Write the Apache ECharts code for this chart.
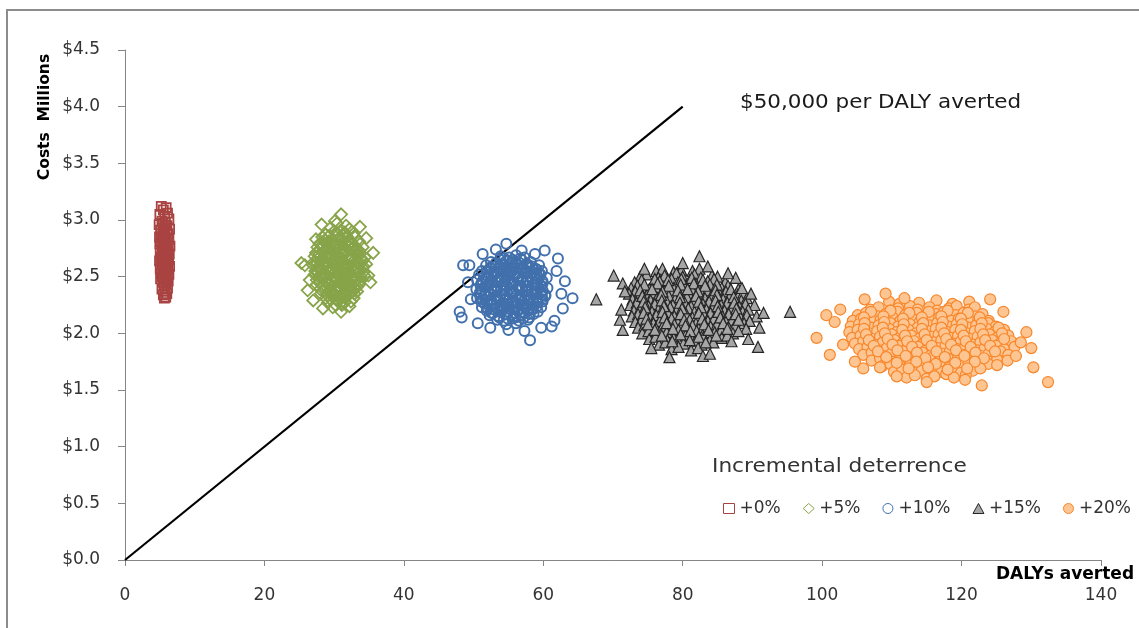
<!DOCTYPE html>
<html>
<head>
<meta charset="utf-8">
<script src="https://cdn.jsdelivr.net/npm/echarts@6/dist/echarts.min.js"></script>
<style>
  html, body { margin: 0; padding: 0; background: #fff; }
  #chart { width: 1139px; height: 628px; }
</style>
</head>
<body>
<div id="chart"></div>
<script>
// Axis ticks
const xTicks = [0, 20, 40, 60, 80, 100, 120, 140];
const yTicks = [0, 0.5, 1.0, 1.5, 2.0, 2.5, 3.0, 3.5, 4.0, 4.5];

// Series names (incremental deterrence)
const seriesNames = ['+0%', '+5%', '+10%', '+15%', '+20%'];

// Willingness-to-pay threshold: $50,000 per DALY averted (costs in $ millions)
const thresholdLine = [[0, 0], [80, 4.0]];

// Simulated outcomes: [DALYs averted, cost in $ millions]
const pts0 = [
  [5.2,3.12],[5.9,3.11],[5.5,3.09],[6.1,3.06],[5.0,3.05],[5.7,3.03],[6.3,3.01],[5.3,2.99],[5.8,2.98],[4.9,2.96],
  [6.0,2.95],[5.5,2.93],[6.4,2.92],[5.1,2.91],[5.7,2.89],[6.2,2.88],[5.4,2.87],[4.95,2.85],[5.9,2.84],[6.3,2.83],
  [5.6,2.82],[5.2,2.81],[6.1,2.80],[5.0,2.79],[5.8,2.78],[6.45,2.77],[5.4,2.76],[5.65,2.75],[6.2,2.74],[5.05,2.73],
  [5.9,2.72],[5.3,2.71],[6.35,2.70],[5.55,2.69],[6.0,2.68],[5.15,2.67],[5.75,2.66],[6.25,2.65],[4.95,2.64],[5.45,2.63],
  [6.1,2.62],[5.85,2.61],[5.25,2.60],[6.4,2.59],[5.6,2.58],[5.05,2.57],[6.15,2.56],[5.5,2.55],[5.95,2.54],[5.2,2.53],
  [6.3,2.52],[5.7,2.51],[5.35,2.50],[6.05,2.49],[5.1,2.48],[5.8,2.47],[6.2,2.46],[5.45,2.45],[5.9,2.44],[5.6,2.42],
  [6.1,2.40],[5.3,2.39],[5.75,2.37],[6.0,2.35],[5.5,2.34],[5.85,2.32],[5.65,2.31],
  [5.6,2.86],[5.4,2.72],[5.8,2.58],[5.5,2.79],[5.7,2.95],[6.0,2.90],[5.3,2.65],[5.9,2.68],[5.6,2.62],[5.2,2.85],
  [6.1,2.71],[5.5,2.52],[5.8,2.82],[5.4,2.97],[6.0,2.60]
];

const pts5 = [
  [30.4,2.97],[31.7,2.95],
  [29.5,2.93],[31.0,2.91],[32.2,2.92],
  [28.8,2.87],[30.3,2.89],[31.3,2.86],[32.8,2.88],
  [28.3,2.85],[29.7,2.83],[30.7,2.84],[32.0,2.82],[33.0,2.85],
  [27.9,2.79],[29.2,2.81],[30.2,2.78],[31.6,2.80],[32.5,2.79],[33.6,2.81],
  [27.6,2.76],[28.9,2.74],[29.8,2.77],[31.1,2.75],[32.0,2.77],[33.3,2.74],[34.1,2.76],
  [27.4,2.71],[28.6,2.73],[29.5,2.70],[30.7,2.72],[31.6,2.71],[32.9,2.73],[33.7,2.70],
  [27.2,2.68],[28.4,2.66],[29.2,2.69],[30.5,2.67],[31.3,2.69],[32.6,2.66],[33.5,2.68],[34.4,2.67],
  [27.1,2.63],[28.3,2.65],[29.0,2.62],[30.2,2.64],[31.2,2.63],[32.1,2.65],[33.4,2.62],[34.1,2.64],
  [27.0,2.60],[28.1,2.58],[28.9,2.61],[30.0,2.59],[30.8,2.61],[32.0,2.59],[32.8,2.60],[34.0,2.58],[34.6,2.61],
  [27.3,2.55],[28.0,2.57],[29.3,2.56],[30.1,2.54],[31.3,2.57],[32.2,2.55],[33.0,2.56],[34.2,2.54],
  [27.2,2.52],[28.4,2.50],[29.3,2.53],[30.5,2.51],[31.3,2.52],[32.5,2.50],[33.3,2.53],[34.3,2.51],
  [27.5,2.47],[28.4,2.49],[29.7,2.46],[30.5,2.48],[31.7,2.47],[32.5,2.49],[33.7,2.46],
  [27.5,2.43],[28.8,2.45],[29.7,2.42],[30.9,2.44],[31.7,2.43],[32.9,2.45],[33.6,2.43],
  [28.0,2.39],[28.9,2.41],[30.1,2.38],[30.9,2.40],[32.1,2.39],[32.9,2.41],
  [28.1,2.35],[29.4,2.37],[30.2,2.34],[31.4,2.36],[32.2,2.35],[33.3,2.37],
  [28.8,2.31],[29.7,2.33],[30.9,2.30],[31.7,2.32],[32.8,2.31],
  [29.1,2.27],[30.4,2.29],[31.2,2.26],[32.4,2.28],
  [29.8,2.23],[31.1,2.25],
  [30.0,2.90],[31.5,2.89],
  [29.3,2.86],[30.6,2.87],[31.9,2.85],
  [28.7,2.82],[29.9,2.81],[31.1,2.83],[32.4,2.81],
  [28.4,2.78],[29.5,2.79],[30.8,2.77],[32.0,2.78],[33.0,2.77],
  [28.0,2.74],[29.2,2.75],[30.3,2.73],[31.5,2.74],[32.6,2.75],[33.6,2.73],
  [27.9,2.70],[29.0,2.69],[30.1,2.71],[31.2,2.70],[32.3,2.68],[33.3,2.70],
  [27.7,2.66],[28.8,2.67],[29.8,2.65],[30.9,2.66],[32.0,2.67],[33.0,2.65],[33.9,2.66],
  [27.6,2.62],[28.6,2.61],[29.6,2.63],[30.6,2.62],[31.7,2.61],[32.6,2.63],[33.6,2.62],
  [27.6,2.58],[28.5,2.59],[29.5,2.57],[30.5,2.58],[31.5,2.59],[32.4,2.57],[33.4,2.58],[34.2,2.59],
  [27.7,2.54],[28.7,2.53],[29.7,2.55],[30.7,2.54],[31.7,2.53],[32.7,2.55],[33.6,2.54],
  [27.8,2.50],[28.9,2.51],[29.9,2.49],[30.9,2.50],[31.9,2.51],[32.9,2.49],[33.8,2.50],
  [28.0,2.46],[29.1,2.45],[30.2,2.47],[31.2,2.46],[32.2,2.45],[33.2,2.47],
  [28.3,2.42],[29.3,2.43],[30.4,2.41],[31.4,2.42],[32.5,2.43],[33.3,2.41],
  [28.6,2.38],[29.7,2.37],[30.7,2.39],[31.7,2.38],[32.7,2.37],
  [29.0,2.34],[30.0,2.35],[31.0,2.33],[32.0,2.34],[32.9,2.35],
  [29.5,2.30],[30.6,2.29],[31.6,2.31],
  [30.2,2.25],[31.5,2.27],
  [30.5,2.56],[31.5,2.62],[29.6,2.58],[30.0,2.70],[31.0,2.46],[29.9,2.50],[31.8,2.52],[30.4,2.78],[30.6,2.40],[29.1,2.66],
  [31.0,3.05],[30.1,2.99],[28.2,2.96],[25.8,2.60],[25.3,2.62],[35.6,2.71],[34.9,2.51],[26.5,2.47],[32.2,2.24],[31.0,2.19],
  [28.4,2.22],[27.0,2.29],[33.7,2.94],[26.2,2.38],[35.2,2.45],[34.6,2.84],[27.4,2.83]
];

const pts10 = [
  [53.9,2.68],[55.1,2.67],[56.1,2.69],[57.3,2.67],
  [52.5,2.63],[53.8,2.65],[54.7,2.64],[56.0,2.62],[56.9,2.65],[58.2,2.63],
  [51.8,2.60],[53.1,2.59],[54.0,2.61],[55.3,2.58],[56.2,2.60],[57.5,2.61],[58.4,2.59],[59.4,2.60],
  [51.2,2.55],[52.5,2.57],[53.4,2.54],[54.7,2.56],[55.6,2.55],[56.9,2.57],[57.8,2.54],[59.1,2.56],[59.8,2.55],
  [50.8,2.52],[52.1,2.50],[53.0,2.53],[54.3,2.51],[55.2,2.52],[56.5,2.50],[57.4,2.53],[58.7,2.51],[59.6,2.52],
  [50.5,2.47],[51.8,2.49],[52.7,2.46],[54.0,2.48],[54.9,2.47],[56.2,2.49],[57.1,2.46],[58.4,2.48],[59.3,2.47],[60.5,2.49],
  [51.1,2.44],[52.0,2.42],[53.3,2.45],[54.2,2.43],[55.5,2.44],[56.4,2.42],[57.7,2.45],[58.6,2.43],[59.9,2.44],
  [50.4,2.39],[51.7,2.41],[52.6,2.40],[53.9,2.38],[54.8,2.41],[56.1,2.39],[57.0,2.40],[58.3,2.38],[59.2,2.41],[60.6,2.40],
  [50.9,2.36],[51.8,2.34],[53.1,2.37],[54.0,2.35],[55.3,2.36],[56.2,2.34],[57.5,2.37],[58.4,2.35],[59.7,2.36],[60.3,2.34],
  [50.5,2.31],[51.6,2.33],[52.5,2.30],[53.8,2.32],[54.7,2.31],[56.0,2.33],[56.9,2.30],[58.2,2.32],[59.1,2.31],[60.3,2.33],
  [51.1,2.28],[52.0,2.26],[53.3,2.29],[54.2,2.27],[55.5,2.28],[56.4,2.26],[57.7,2.29],[58.6,2.27],[59.9,2.28],
  [51.2,2.23],[52.5,2.25],[53.4,2.22],[54.7,2.24],[55.6,2.23],[56.9,2.25],[57.8,2.22],[59.1,2.24],[59.7,2.23],
  [51.9,2.20],[52.8,2.18],[54.1,2.21],[55.0,2.19],[56.3,2.20],[57.2,2.18],[58.5,2.21],[59.2,2.19],
  [52.3,2.16],[53.6,2.15],[54.5,2.17],[55.8,2.15],[56.7,2.16],[58.0,2.14],[58.6,2.17],
  [53.4,2.12],[54.3,2.11],[55.6,2.13],[56.5,2.11],[57.8,2.12],
  [54.7,2.08],[56.1,2.09],
  [54.4,2.66],[55.6,2.65],[56.7,2.66],
  [53.2,2.62],[54.3,2.61],[55.5,2.63],[56.6,2.62],[57.7,2.61],
  [52.4,2.58],[53.6,2.57],[54.6,2.58],[55.8,2.59],[56.8,2.57],[58.0,2.58],[58.9,2.57],
  [51.9,2.54],[53.0,2.53],[54.1,2.55],[55.2,2.54],[56.3,2.53],[57.4,2.55],[58.5,2.54],[59.4,2.53],
  [51.5,2.50],[52.6,2.51],[53.7,2.49],[54.8,2.50],[55.9,2.51],[57.0,2.49],[58.1,2.50],[59.1,2.51],
  [51.3,2.46],[52.3,2.45],[53.5,2.47],[54.5,2.46],[55.7,2.45],[56.8,2.47],[57.8,2.46],[59.0,2.45],[59.9,2.46],
  [51.0,2.42],[52.2,2.43],[53.2,2.41],[54.4,2.42],[55.4,2.43],[56.6,2.41],[57.6,2.42],[58.8,2.43],[59.7,2.42],
  [51.2,2.38],[52.2,2.37],[53.4,2.39],[54.4,2.38],[55.6,2.37],[56.6,2.39],[57.8,2.38],[58.8,2.37],[59.9,2.38],
  [51.1,2.34],[52.3,2.35],[53.3,2.33],[54.5,2.34],[55.5,2.35],[56.7,2.33],[57.7,2.34],[58.9,2.35],[59.8,2.34],
  [51.3,2.30],[52.4,2.29],[53.5,2.31],[54.6,2.30],[55.7,2.29],[56.8,2.31],[57.9,2.30],[59.0,2.29],[59.9,2.30],
  [51.6,2.26],[52.7,2.27],[53.8,2.25],[54.9,2.26],[56.0,2.27],[57.1,2.25],[58.2,2.26],[59.2,2.27],
  [52.0,2.22],[53.0,2.21],[54.2,2.23],[55.2,2.22],[56.4,2.21],[57.4,2.23],[58.5,2.22],
  [52.6,2.18],[53.7,2.19],[54.8,2.17],[55.9,2.18],[57.0,2.19],[58.0,2.17],
  [53.7,2.14],[54.9,2.13],[56.0,2.14],[57.1,2.13],
  [64.2,2.31],[58.1,1.94],[48.3,2.14],[48.0,2.19],[48.5,2.60],[54.7,2.79],[56.9,2.73],[60.2,2.73],[62.1,2.66],[63.1,2.46],
  [62.6,2.35],[61.6,2.11],[61.2,2.06],[50.6,2.09],[49.4,2.60],[49.2,2.45],[49.6,2.30],[52.4,2.05],[55.0,2.03],[57.3,2.02],
  [59.7,2.05],[61.9,2.55],[53.2,2.74],[51.3,2.70],[62.8,2.22],[58.8,2.70]
];

const pts15 = [
  [76.2,2.55],[77.1,2.57],[78.7,2.54],[79.8,2.56],[81.4,2.55],[82.4,2.57],
  [73.9,2.50],[74.8,2.52],[76.5,2.49],[77.4,2.51],[79.1,2.53],[80.0,2.50],[81.7,2.52],[82.6,2.49],[84.2,2.51],[85.0,2.50],
  [73.1,2.45],[74.1,2.47],[75.8,2.44],[76.7,2.46],[78.4,2.48],[79.3,2.45],[81.0,2.47],[81.9,2.44],[83.6,2.46],[84.5,2.48],[86.1,2.45],
  [72.6,2.40],[73.5,2.42],[75.2,2.39],[76.1,2.41],[77.8,2.43],[78.7,2.40],[80.4,2.42],[81.3,2.39],[83.0,2.41],[83.9,2.43],[85.6,2.40],[86.5,2.42],[88.0,2.39],
  [72.3,2.35],[73.2,2.37],[74.9,2.34],[75.8,2.36],[77.5,2.38],[78.4,2.35],[80.1,2.37],[81.0,2.34],[82.7,2.36],[83.6,2.38],[85.3,2.35],[86.2,2.37],[87.9,2.34],[88.7,2.36],
  [72.8,2.30],[73.7,2.32],[75.4,2.29],[76.3,2.31],[78.0,2.33],[78.9,2.30],[80.6,2.32],[81.5,2.29],[83.2,2.31],[84.1,2.33],[85.8,2.30],[86.7,2.32],[88.4,2.29],[89.2,2.31],
  [72.5,2.25],[73.4,2.27],[75.1,2.24],[76.0,2.26],[77.7,2.28],[78.6,2.25],[80.3,2.27],[81.2,2.24],[82.9,2.26],[83.8,2.28],[85.5,2.25],[86.4,2.27],[88.1,2.24],[89.0,2.26],[90.3,2.25],
  [73.0,2.20],[73.9,2.22],[75.6,2.19],[76.5,2.21],[78.2,2.23],[79.1,2.20],[80.8,2.22],[81.7,2.19],[83.4,2.21],[84.3,2.23],[86.0,2.20],[86.9,2.22],[88.6,2.19],[89.4,2.21],
  [72.7,2.15],[73.6,2.17],[75.3,2.14],[76.2,2.16],[77.9,2.18],[78.8,2.15],[80.5,2.17],[81.4,2.14],[83.1,2.16],[84.0,2.18],[85.7,2.15],[86.6,2.17],[88.3,2.14],[89.2,2.16],[90.6,2.15],
  [73.2,2.10],[74.1,2.12],[75.8,2.09],[76.7,2.11],[78.4,2.13],[79.3,2.10],[81.0,2.12],[81.9,2.09],[83.6,2.11],[84.5,2.13],[86.2,2.10],[87.1,2.12],[88.8,2.09],[89.6,2.11],
  [73.6,2.05],[74.5,2.07],[76.2,2.04],[77.1,2.06],[78.8,2.08],[79.7,2.05],[81.4,2.07],[82.3,2.04],[84.0,2.06],[84.9,2.08],[86.6,2.05],[87.5,2.07],[89.1,2.04],
  [74.2,2.00],[75.1,2.02],[76.8,1.99],[77.7,2.01],[79.4,2.03],[80.3,2.00],[82.0,2.02],[82.9,1.99],[84.6,2.01],[85.5,2.03],[87.2,2.00],[88.0,2.02],
  [75.2,1.95],[76.1,1.97],[77.8,1.94],[78.7,1.96],[80.4,1.98],[81.3,1.95],[83.0,1.97],[83.9,1.94],[85.6,1.96],[86.4,1.98],
  [76.6,1.90],[77.5,1.92],[79.2,1.89],[80.1,1.91],[81.8,1.93],[82.7,1.90],[84.4,1.92],
  [78.4,1.86],[79.4,1.88],[81.2,1.85],[82.2,1.87],
  [76.0,2.48],[77.9,2.47],[79.8,2.48],[81.3,2.49],[82.9,2.47],
  [74.5,2.43],[76.4,2.44],[78.0,2.42],[79.7,2.43],[81.6,2.44],[83.2,2.42],[84.9,2.43],
  [73.9,2.38],[75.6,2.39],[77.1,2.37],[79.3,2.38],[80.7,2.39],[82.2,2.37],[84.7,2.38],[86.9,2.39],
  [74.2,2.33],[76.9,2.34],[79.6,2.32],[81.9,2.33],[84.9,2.34],[87.3,2.32],
  [74.4,2.28],[77.0,2.29],[79.6,2.27],[82.3,2.28],[84.7,2.29],[87.4,2.27],
  [74.6,2.23],[77.3,2.24],[79.9,2.22],[82.6,2.23],[85.0,2.24],[87.7,2.22],
  [74.4,2.18],[77.1,2.19],[79.7,2.17],[82.3,2.18],[85.1,2.19],[87.6,2.17],
  [74.8,2.13],[77.4,2.14],[80.2,2.12],[82.8,2.13],[85.4,2.14],[88.0,2.12],
  [75.0,2.08],[77.7,2.09],[80.4,2.07],[83.1,2.08],[85.8,2.09],
  [76.0,2.03],[78.6,2.04],[81.1,2.02],[83.7,2.03],[86.4,2.04],
  [77.0,1.98],[79.7,1.99],[82.3,1.97],[84.8,1.98],
  [78.5,1.93],[81.0,1.94],[83.3,1.92],
  [67.6,2.30],[70.1,2.51],[82.4,2.68],[83.6,2.59],[87.6,2.49],[95.4,2.19],[91.6,2.18],[90.8,1.88],[89.4,1.95],[78.1,1.79],
  [75.5,1.87],[82.9,1.80],[83.9,1.82],[71.4,2.03],[71.0,2.12],[71.2,2.21],[71.4,2.44],[71.7,2.37],[88.5,2.40],[89.8,2.35],
  [91.0,2.05],[87.0,1.93],[86.5,2.53],[74.5,2.57],[80.0,2.62]
];

const pts20 = [
  [109.6,2.28],[111.1,2.26],[113.9,2.27],[116.4,2.29],[118.7,2.26],[121.1,2.28],
  [106.9,2.21],[108.1,2.23],[109.8,2.20],[110.9,2.22],[112.6,2.24],[113.7,2.21],[115.4,2.23],[116.5,2.20],[118.2,2.22],[119.3,2.24],[121.0,2.21],[121.9,2.23],
  [105.1,2.16],[106.3,2.18],[108.0,2.15],[109.1,2.17],[110.8,2.19],[111.9,2.16],[113.6,2.18],[114.7,2.15],[116.4,2.17],[117.5,2.19],[119.2,2.16],[120.3,2.18],[122.0,2.15],[123.0,2.17],
  [104.4,2.11],[105.6,2.13],[107.3,2.10],[108.4,2.12],[110.1,2.14],[111.2,2.11],[112.9,2.13],[114.0,2.10],[115.7,2.12],[116.8,2.14],[118.5,2.11],[119.6,2.13],[121.3,2.10],[122.4,2.12],[123.9,2.11],
  [104.1,2.06],[105.3,2.08],[107.0,2.05],[108.1,2.07],[109.8,2.09],[110.9,2.06],[112.6,2.08],[113.7,2.05],[115.4,2.07],[116.5,2.09],[118.2,2.06],[119.3,2.08],[121.0,2.05],[122.1,2.07],[123.8,2.09],[124.9,2.06],
  [103.9,2.01],[105.1,2.03],[106.8,2.00],[107.9,2.02],[109.6,2.04],[110.7,2.01],[112.4,2.03],[113.5,2.00],[115.2,2.02],[116.3,2.04],[118.0,2.01],[119.1,2.03],[120.8,2.00],[121.9,2.02],[123.6,2.04],[124.7,2.01],[126.1,2.03],
  [104.3,1.96],[105.5,1.98],[107.2,1.95],[108.3,1.97],[110.0,1.99],[111.1,1.96],[112.8,1.98],[113.9,1.95],[115.6,1.97],[116.7,1.99],[118.4,1.96],[119.5,1.98],[121.2,1.95],[122.3,1.97],[124.0,1.99],[125.1,1.96],[126.7,1.98],
  [104.7,1.91],[105.9,1.93],[107.6,1.90],[108.7,1.92],[110.4,1.94],[111.5,1.91],[113.2,1.93],[114.3,1.90],[116.0,1.92],[117.1,1.94],[118.8,1.91],[119.9,1.93],[121.6,1.90],[122.7,1.92],[124.4,1.94],[125.5,1.91],[127.1,1.93],
  [105.3,1.86],[106.5,1.88],[108.2,1.85],[109.3,1.87],[111.0,1.89],[112.1,1.86],[113.8,1.88],[114.9,1.85],[116.6,1.87],[117.7,1.89],[119.4,1.86],[120.5,1.88],[122.2,1.85],[123.3,1.87],[125.0,1.89],[126.1,1.86],[127.6,1.88],
  [105.9,1.81],[107.1,1.83],[108.8,1.80],[109.9,1.82],[111.6,1.84],[112.7,1.81],[114.4,1.83],[115.5,1.80],[117.2,1.82],[118.3,1.84],[120.0,1.81],[121.1,1.83],[122.8,1.80],[123.9,1.82],[125.6,1.84],[126.7,1.81],
  [107.1,1.76],[108.3,1.78],[110.0,1.75],[111.1,1.77],[112.8,1.79],[113.9,1.76],[115.6,1.78],[116.7,1.75],[118.4,1.77],[119.5,1.79],[121.2,1.76],[122.3,1.78],[124.0,1.75],[125.1,1.77],[126.6,1.76],
  [108.6,1.71],[109.8,1.73],[111.5,1.70],[112.6,1.72],[114.3,1.74],[115.4,1.71],[117.1,1.73],[118.2,1.70],[119.9,1.72],[121.0,1.74],[122.7,1.71],[123.8,1.73],[125.1,1.72],
  [110.3,1.66],[111.5,1.68],[113.2,1.65],[114.3,1.67],[116.0,1.69],[117.1,1.66],[118.8,1.68],[119.9,1.65],[121.6,1.67],[122.7,1.69],
  [112.1,1.61],[113.3,1.63],[115.0,1.60],[116.1,1.62],[117.8,1.64],[118.9,1.61],[120.6,1.63],
  [107.0,2.19],[109.8,2.20],[112.5,2.18],[115.3,2.19],[118.0,2.20],[120.9,2.18],
  [106.0,2.14],[108.8,2.15],[111.6,2.13],[114.3,2.14],[117.1,2.15],[119.9,2.13],[122.6,2.14],
  [106.1,2.09],[108.9,2.10],[111.7,2.08],[114.5,2.09],[117.3,2.10],[120.1,2.08],[122.9,2.09],
  [106.0,2.04],[108.7,2.05],[111.5,2.03],[114.3,2.04],[117.1,2.05],[119.9,2.03],[122.7,2.04],[125.3,2.05],
  [106.3,1.99],[109.0,2.00],[111.9,1.98],[114.7,1.99],[117.5,2.00],[120.3,1.98],[123.1,1.99],[125.8,2.00],
  [106.7,1.94],[109.4,1.95],[112.2,1.93],[115.0,1.94],[117.8,1.95],[120.6,1.93],[123.4,1.94],[126.1,1.95],
  [107.4,1.89],[110.1,1.90],[112.9,1.88],[115.7,1.89],[118.5,1.90],[121.3,1.88],[124.1,1.89],
  [108.0,1.84],[110.8,1.85],[113.6,1.83],[116.4,1.84],[119.2,1.85],[122.0,1.83],[124.8,1.84],
  [109.2,1.79],[112.0,1.80],[114.8,1.78],[117.6,1.79],[120.4,1.80],[123.2,1.78],
  [110.7,1.74],[113.5,1.75],[116.3,1.73],[119.1,1.74],[121.9,1.75],
  [112.4,1.69],[115.2,1.70],[118.0,1.68],[120.8,1.69],
  [99.2,1.96],[101.1,1.81],[102.6,2.21],[100.6,2.16],[106.1,2.30],[109.1,2.35],[124.1,2.30],[126.0,2.19],[129.3,2.01],[130.0,1.87],
  [130.3,1.70],[132.4,1.57],[122.9,1.54],[120.5,1.59],[110.7,1.62],[108.3,1.70],[105.9,1.69],[104.7,1.75],[101.8,2.10],[103.0,1.90],
  [128.5,1.92],[127.8,1.80],[115.0,1.57],[111.8,2.31]
];

const FONT = '"DejaVu Sans", Verdana, sans-serif';
const TEXT = '#333333';
const AXIS = '#868686';

const styles = [
  { symbol: 'rect',     size: 9,  fill: 'rgba(255,255,255,0)', stroke: '#A94341', lw: 1.8, legendFill: '#fff' },
  { symbol: 'diamond',  size: 12, fill: 'rgba(255,255,255,0)', stroke: '#88A44A', lw: 1.8, legendFill: '#fff' },
  { symbol: 'circle',   size: 10, fill: 'rgba(255,255,255,0)', stroke: '#4170AC', lw: 2.0, legendFill: '#fff' },
  { symbol: 'triangle', size: 11, fill: '#A6A6A6',             stroke: '#262626', lw: 1.2, legendFill: '#A6A6A6' },
  { symbol: 'circle',   size: 11, fill: '#FDC591',             stroke: '#F8862A', lw: 1.2, legendFill: '#FDC591' }
];
const seriesData = [pts0, pts5, pts10, pts15, pts20];

const chart = echarts.init(document.getElementById('chart'), null, { renderer: 'canvas' });

const scatterSeries = seriesNames.map((name, i) => ({
  name: name,
  type: 'scatter',
  data: seriesData[i],
  symbol: styles[i].symbol,
  symbolSize: styles[i].size,
  itemStyle: {
    color: styles[i].fill,
    borderColor: styles[i].stroke,
    borderWidth: styles[i].lw,
    opacity: 1
  },
  emphasis: { disabled: true },
  z: 3
}));

chart.setOption({
  backgroundColor: '#ffffff',
  animation: false,
  textStyle: { fontFamily: FONT },
  grid: { left: 125, right: 38, top: 50, bottom: 68, containLabel: false },
  xAxis: {
    type: 'value',
    min: xTicks[0],
    max: xTicks[xTicks.length - 1],
    interval: 20,
    splitLine: { show: false },
    axisLine: { show: true, onZero: false, lineStyle: { color: AXIS, width: 1 } },
    axisTick: { show: true, length: 6, lineStyle: { color: AXIS } },
    axisLabel: { color: TEXT, fontSize: 17, fontFamily: FONT, margin: 27 }
  },
  yAxis: {
    type: 'value',
    min: yTicks[0],
    max: yTicks[yTicks.length - 1],
    interval: 0.5,
    splitLine: { show: false },
    axisLine: { show: true, onZero: false, lineStyle: { color: AXIS, width: 1 } },
    axisTick: { show: true, length: 7, lineStyle: { color: AXIS } },
    axisLabel: {
      color: TEXT, fontSize: 17, fontFamily: FONT, margin: 25,
      formatter: v => '$' + v.toFixed(1)
    }
  },
  legend: {
    left: 718,
    top: 495,
    itemWidth: 11,
    itemHeight: 10,
    itemGap: 22,
    textStyle: { color: TEXT, fontSize: 17, fontFamily: FONT },
    data: seriesNames.map((name, i) => ({
      name: name,
      icon: styles[i].symbol,
      itemStyle: { color: styles[i].legendFill, borderColor: styles[i].stroke, borderWidth: 1 }
    }))
  },
  graphic: [
    {
      type: 'rect', silent: true, z: -10,
      shape: { x: 7, y: 10, width: 1150, height: 640 },
      style: { fill: 'none', stroke: '#8C8C8C', lineWidth: 2 }
    },
    {
      type: 'text', x: 45, y: 117, rotation: Math.PI / 2,
      style: {
        text: 'Costs  Millions', fill: '#000', font: 'bold 15.5px ' + FONT,
        textAlign: 'center', textVerticalAlign: 'middle'
      }
    },
    {
      type: 'text', x: 1065, y: 575,
      style: {
        text: 'DALYs averted', fill: '#000', font: 'bold 17px ' + FONT,
        textAlign: 'center', textVerticalAlign: 'middle'
      }
    },
    {
      type: 'text', x: 740, y: 103, scaleX: 1.13,
      style: {
        text: '$50,000 per DALY averted', fill: '#1a1a1a', font: '19px ' + FONT,
        textAlign: 'left', textVerticalAlign: 'middle'
      }
    },
    {
      type: 'text', x: 712, y: 467, scaleX: 1.14,
      style: {
        text: 'Incremental deterrence', fill: TEXT, font: '19px ' + FONT,
        textAlign: 'left', textVerticalAlign: 'middle'
      }
    }
  ],
  series: [
    {
      name: 'threshold',
      type: 'line',
      data: thresholdLine,
      showSymbol: false,
      symbol: 'none',
      lineStyle: { color: '#000', width: 2.2 },
      emphasis: { disabled: true },
      z: 2
    }
  ].concat(scatterSeries)
});
</script>
</body>
</html>
